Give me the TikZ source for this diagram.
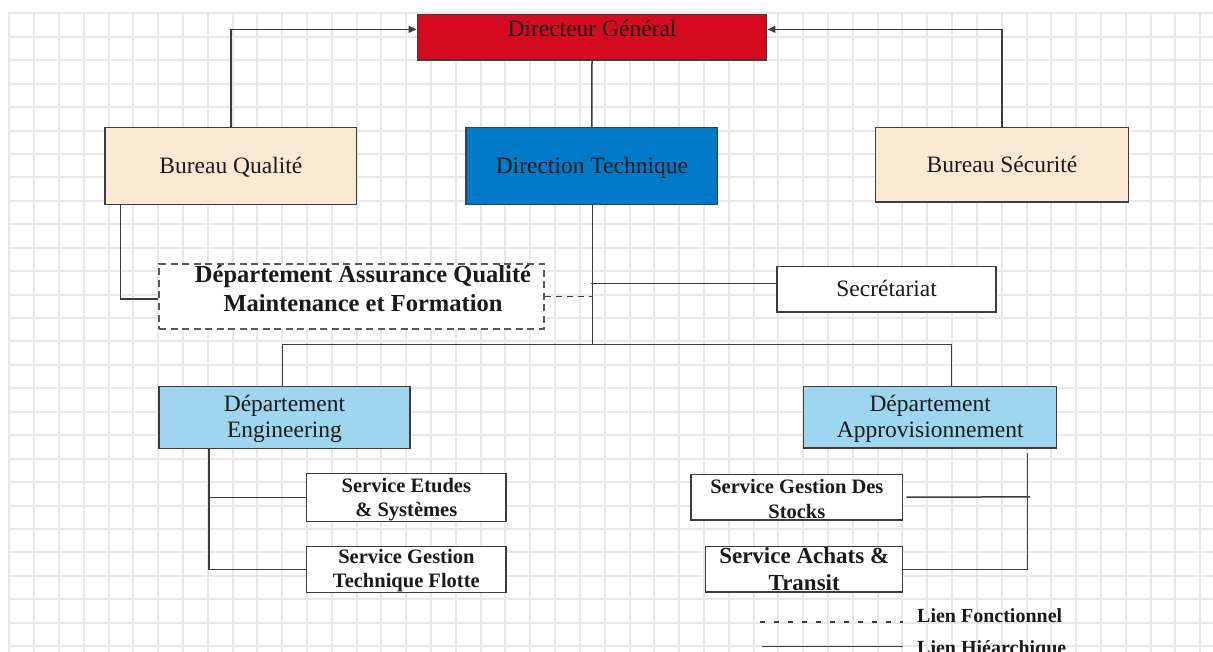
\documentclass[tikz,border=0pt]{standalone}
\usepackage{fontspec}
\setmainfont{Liberation Serif}
\usetikzlibrary{arrows.meta}
\definecolor{gridc}{HTML}{E8E8E8}
\definecolor{dgred}{HTML}{D50A1E}
\definecolor{dtblue}{HTML}{0079C8}
\definecolor{peach}{HTML}{FDE9D3}
\definecolor{ltblue}{HTML}{9DD6EE}
\definecolor{edgec}{HTML}{3C3C3C}
\definecolor{txtc}{HTML}{1A1A1A}
\begin{document}
\begin{tikzpicture}[x=1pt,y=-1pt,
  box/.style={draw=edgec, line width=1.5pt, inner sep=0pt, text=txtc, align=center},
  dbox/.style={box, line width=1.3pt, dash pattern=on 7pt off 4.5pt, draw=edgec!85},
  link/.style={draw=edgec, line width=1.5pt},
  flink/.style={link, line width=1.3pt, dash pattern=on 6pt off 5pt},
  legdash/.style={link, line width=1.3pt, dash pattern=on 5pt off 9pt},
  arr/.style={link, -{Triangle[length=8pt,width=7pt]}},
  txtreg/.style={font=\fontsize{23.5}{26}\selectfont},
  txtbig/.style={font=\bfseries\fontsize{24.5}{29}\selectfont},
  txtsvc/.style={font=\bfseries\fontsize{20.5}{24.5}\selectfont},
  txtach/.style={font=\bfseries\fontsize{23}{27}\selectfont},
  txtleg/.style={font=\bfseries\fontsize{20}{23}\selectfont, text=txtc, inner sep=0pt},
  oneline/.style={text height=15.5pt, text depth=0pt},
]
\useasboundingbox (0,0) rectangle (1213,652);
\clip (0,0) rectangle (1213,652);
\fill[white] (0,0) rectangle (1213,652);
% grid
\foreach \i in {0,...,48} {
  \pgfmathsetmacro\gx{round(9.3+24.81*\i)}
  \draw[gridc, line width=2pt] (\gx,12.3) -- (\gx,652);
}
\foreach \j in {0,...,27} {
  \pgfmathsetmacro\gy{round(13.3+23.44*\j)}
  \draw[gridc, line width=2pt] (8.3,\gy) -- (1213,\gy);
}

% boxes
\node[box, fill=dgred, minimum width=349.4pt, minimum height=45.3pt, txtreg, text height=15.5pt, text depth=16.8pt] (dg) at (592,37.35) {Directeur Général};
\node[box, fill=peach, minimum width=251.7pt, minimum height=77pt, txtreg, oneline] (bq) at (230.85,166.2) {Bureau Qualité};
\node[box, fill=dtblue, minimum width=251.7pt, minimum height=77pt, txtreg, oneline] (dt) at (591.85,166.2) {Direction Technique};
\node[box, fill=peach, minimum width=253.4pt, minimum height=74.3pt, txtreg, oneline] (bs) at (1002,164.85) {Bureau Sécurité};
\node[dbox, fill=white, minimum width=385pt, minimum height=65pt, txtbig] (daq) at (351.5,296.5) {\hspace*{23pt}Département Assurance Qualité\\\hspace*{23pt}Maintenance et Formation\rule[-17pt]{0pt}{17pt}};
\node[box, fill=white, minimum width=219pt, minimum height=45.5pt, txtreg, oneline] (sec) at (886.6,289.2) {Secrétariat};
\node[box, fill=ltblue, minimum width=251pt, minimum height=61.6pt, txtreg] (eng) at (284.5,417.5) {\rule{0pt}{19pt}Département\\Engineering};
\node[box, fill=ltblue, minimum width=253pt, minimum height=61.3pt, txtreg] (app) at (930.2,417.35) {\rule{0pt}{19pt}Département\\Approvisionnement};
\node[box, fill=white, minimum width=199.3pt, minimum height=46pt, txtsvc] (set) at (406.35,497.3) {\rule{0pt}{19pt}Service Etudes\\\&~Systèmes};
\node[box, fill=white, minimum width=199.3pt, minimum height=45.3pt, txtsvc] (sgt) at (406.35,569.35) {\rule{0pt}{17pt}Service Gestion\\Technique Flotte};
\node[box, fill=white, minimum width=211.7pt, minimum height=45.7pt, txtsvc] (sgs) at (796.85,497.15) {\rule{0pt}{18pt}Service Gestion Des\\Stocks};
\node[box, fill=white, minimum width=197pt, minimum height=45.3pt, txtach] (sat) at (804.2,569.35) {Service Achats \&\\Transit};

% connectors
\draw[arr] (bq.north) |- ([yshift=8pt]dg.west);
\draw[arr] (bs.north) |- ([yshift=8pt]dg.east);
\draw[link] (dg.south) -- (dt.north);
\coordinate (bus) at (592.3,344.5);
\draw[link] ([xshift=0.45pt]dt.south) -- (bus);
\draw[link] ([xshift=-2.2pt]eng.north) |- (bus) -| ([xshift=21.5pt]app.north);
\draw[flink] (daq.east) -- (daq.east -| bus);
\coordinate (secp) at ([yshift=5.7pt]sec.west);
\draw[link] (secp) -- ([xshift=-1pt]secp -| bus);
\draw[link] ([xshift=-110.15pt]bq.south) |- ([yshift=-2.5pt]daq.west);
\coordinate (ev) at ([xshift=-75.5pt]eng.south);
\draw[link] (ev) |- (sgt.west);
\draw[link] (ev |- set.west) -- (set.west);
\coordinate (av) at ([xshift=97.5pt,yshift=-4.3pt]app.south);
\draw[link] (av) |- (sat.east);
\coordinate (aw) at (1030,496.9);
\draw[link] ([xshift=3pt]sgs.east) -- (aw);

% legend
\coordinate (lf1) at (760,622);
\coordinate (lf2) at (903,622);
\coordinate (lh1) at (762,646.7);
\coordinate (lh2) at (903,646.7);
\draw[legdash] (lf1) -- (lf2);
\draw[link] (lh1) -- (lh2);
\node[txtleg, anchor=base west] (lft) at (917,622) {Lien Fonctionnel};
\node[txtleg, anchor=base west] (lht) at (917,654) {Lien Hiéarchique};
\end{tikzpicture}
\end{document}
